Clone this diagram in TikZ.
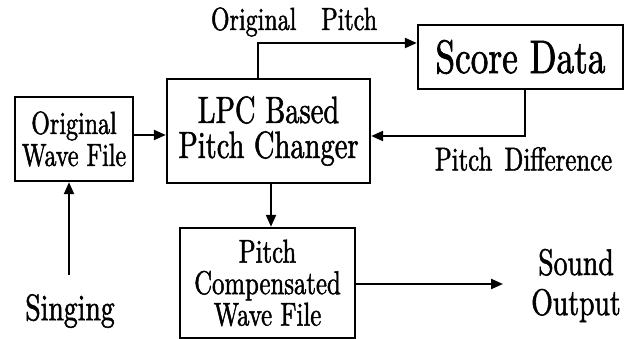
\documentclass[tikz,border=0pt]{standalone}
\usepackage{fontspec}
\setmainfont{lmroman10-regular.otf}[FakeStretch=0.75, FakeBold=1.4]
\usetikzlibrary{arrows.meta}

\tikzset{
  blockbox/.style={draw, line width=2.4pt, inner sep=0pt, align=center},
  flow/.style={line width=2.2pt, -{Triangle[length=12pt,width=10pt]}},
  caption/.style={inner sep=0pt, align=center},
}
\newcommand{\fs}[2]{\fontsize{#1}{#2}\selectfont}

\begin{document}
\begin{tikzpicture}[x=1pt,y=-1pt]
  \useasboundingbox (0,0) rectangle (639,339);

  % processing blocks
  \node[blockbox, minimum width=118pt, minimum height=84pt, font=\fs{32}{32}]
    (wave) at (74,139) {Original\\Wave File};
  \node[blockbox, minimum width=203pt, minimum height=104pt, font=\fs{38}{35}]
    (lpc) at (268.5,131) {LPC Based\\Pitch Changer};
  \node[blockbox, minimum width=205pt, minimum height=64pt, font=\fs{47}{47}]
    (score) at (520.5,57) {Score Data};
  \node[blockbox, minimum width=175pt, minimum height=110pt, font=\fs{33}{31.5}]
    (comp) at (267.5,283) {Pitch\\Compensated\\Wave File};

  % free ends of the input and output arrows
  \coordinate (sing) at (69,275);
  \coordinate (out) at (503,284);

  % labels
  \node[caption, font=\fs{32}{32}] (lblorig) at (294,22) {Original\hspace{17pt} Pitch};
  \node[caption, font=\fs{33}{33}] (lbldiff) at (523.5,159) {Pitch\hspace{4pt} Difference};
  \node[caption, font=\fs{37}{37}] (lblsing) at (70,311) {Singing};
  \node[caption, font=\fs{37}{40}] (lblout) at (576,285.5) {Sound\\Output};

  % connectors
  \draw[flow] (sing) -- (wave.south -| sing);
  \draw[flow] (wave.east |- 0,135) -- (lpc.west |- 0,135);
  \draw[flow] (lpc.north -| 258,0) |- (score.west |- 0,43);
  \draw[flow] (score.south -| 525,0) |- (lpc.east |- 0,136);
  \draw[flow] (lpc.south -| 271,0) -- (comp.north -| 271,0);
  \draw[flow] (comp.east |- out) -- (out);
\end{tikzpicture}
\end{document}
